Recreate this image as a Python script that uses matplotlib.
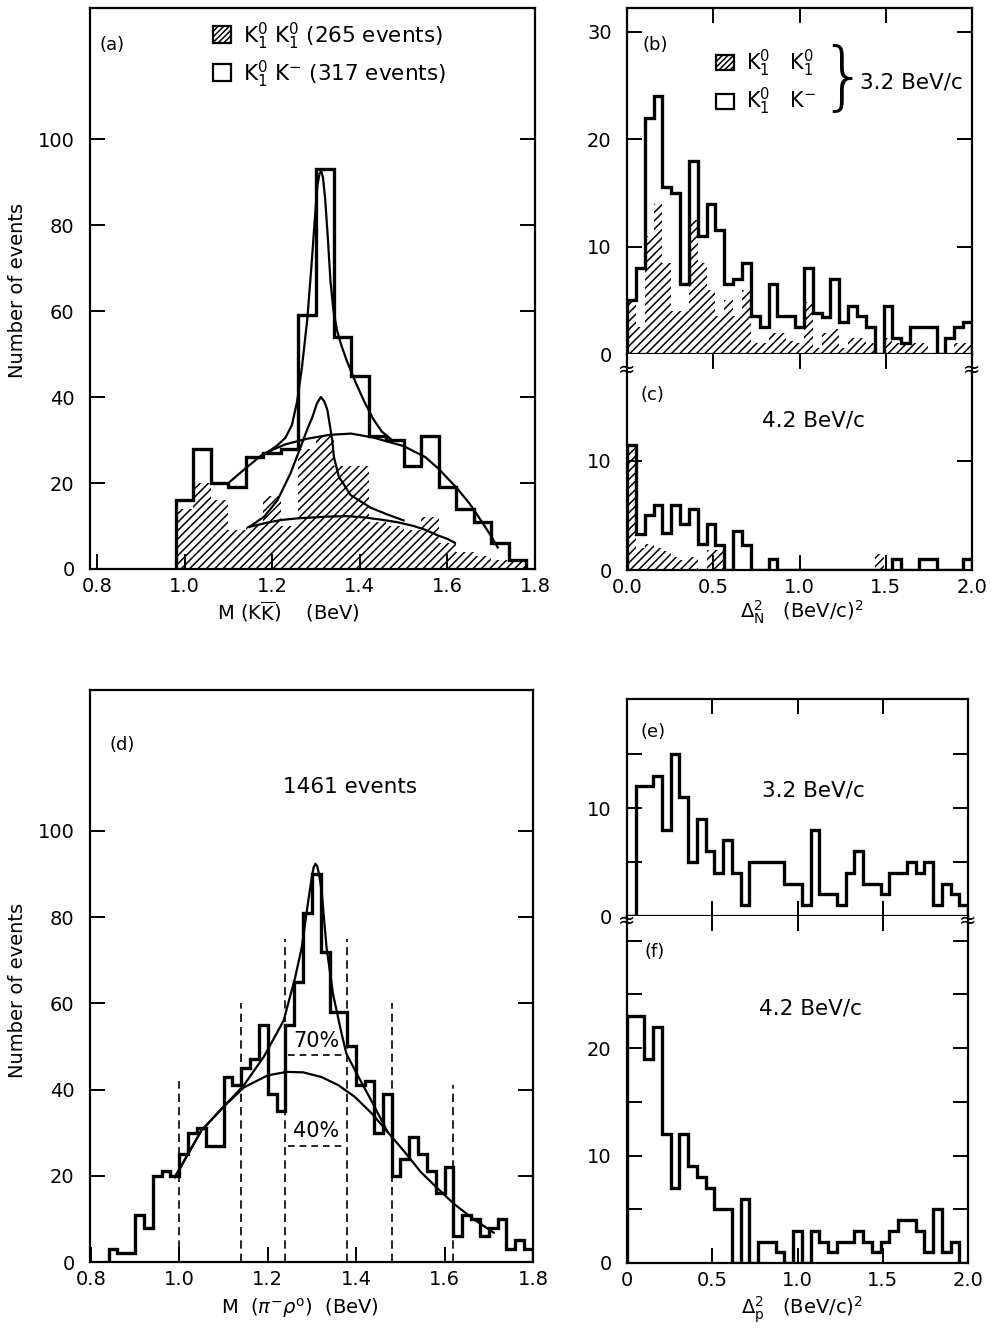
import numpy as np
import matplotlib
matplotlib.use('Agg')
import matplotlib.pyplot as plt
from matplotlib.patches import Rectangle

plt.rcParams['font.family'] = ['DejaVu Sans']
plt.rcParams['mathtext.fontset'] = 'dejavusans'
plt.rcParams['hatch.linewidth'] = 1.1

# ---------------- data ----------------
# (a) M(KKbar), bins of 0.04 BeV starting at 0.98
a_start, a_width = 0.98, 0.04
a_total = [16, 28, 20, 19, 26, 27, 28, 59, 93, 54, 45, 31, 30, 24, 31, 19, 14, 11, 6, 2]
a_k1k1 = [14, 20, 16, 9, 10, 17, 10, 28, 31, 24, 24, 11, 10, 9, 12, 6, 4, 3, 2, 2]
# fitted curves
a_bg_M = [1.10, 1.14, 1.18, 1.23, 1.28, 1.33, 1.38, 1.43, 1.50, 1.55, 1.58, 1.62, 1.65, 1.68, 1.70, 1.715]
a_bg_N = [20, 23.5, 26.8, 29, 30.3, 31.2, 31.5, 30.6, 28.6, 26, 23.3, 19, 15.3, 10.8, 7.6, 5]
a_fit_M = [1.19, 1.21, 1.23, 1.245, 1.257, 1.268, 1.28, 1.29, 1.297, 1.303, 1.308, 1.312, 1.316,
           1.321, 1.327, 1.333, 1.34, 1.348, 1.358, 1.37, 1.39, 1.41, 1.43, 1.45, 1.47]
a_fit_N = [27.2, 28.6, 30.5, 33.5, 39, 47, 58, 71, 81, 89, 92, 92.5, 91,
           86, 77, 67, 60, 55.5, 52, 48.5, 43.5, 39, 35, 32, 30.3]
a_kbg_M = [1.148, 1.185, 1.22, 1.26, 1.295, 1.33, 1.371, 1.41, 1.447, 1.485, 1.523, 1.55, 1.576, 1.60, 1.617]
a_kbg_N = [9.8, 10.7, 11.4, 11.8, 12, 12.2, 12.3, 12, 11.5, 10.9, 10, 9.1, 7.9, 7, 6.1]
a_kfit_M = [1.148, 1.182, 1.212, 1.242, 1.265, 1.28, 1.292, 1.302, 1.311, 1.319, 1.326, 1.337,
            1.341, 1.352, 1.379, 1.424, 1.46, 1.50]
a_kfit_N = [9.8, 12.2, 16, 22.3, 28.4, 32.5, 35.4, 38.5, 40, 39, 37, 30,
            26, 21.5, 17.2, 14.3, 12.8, 11.3]

# (b) Delta^2_N at 3.2 BeV/c
b_total = [5, 8, 22, 24, 15.5, 15, 6.5, 18, 11, 14, 11.5, 6.5, 7, 8.5, 3.5, 2.5, 6.5, 3.5, 3.5, 2.5,
           8, 3.8, 3.4, 7, 3, 4.5, 3.5, 2.5, 0, 4.5, 1.5, 1, 2.5, 2.5, 2.5, 0, 1.5, 2.5, 3]
b_k1k1 = [5, 2.5, 11, 14, 8.5, 4, 4, 12.5, 8.5, 6, 3.5, 5, 3.5, 6, 1, 1, 2, 2, 1.2, 1,
          4.8, 0.6, 2, 2.3, 0.6, 1.5, 1.5, 1, 0, 1.5, 1, 1, 1, 1, 0, 0, 0, 1, 1]
# (c) Delta^2_N at 4.2 BeV/c
c_total = [11.5, 3.3, 5, 6, 3.4, 6, 4.2, 5.6, 2.4, 4.2, 2.3, 0, 3.6, 2.3, 0, 0, 1,
           0, 0, 0, 0, 0, 0, 0, 0, 0, 0, 0, 0, 0, 1, 0, 0, 1, 1, 0, 0, 0, 1]
c_k1k1 = [11.5, 2, 2.4, 2, 1.7, 1.2, 0.9, 1.2, 0, 1.8, 1.8, 0, 0, 0, 0, 0, 0,
          0, 0, 0, 0, 0, 0, 0, 0, 0, 0, 0, 1.5, 0, 0, 0, 0, 0, 0, 0, 0, 0, 0]

# (d) M(pi- rho0), bins of 0.02 BeV starting at 0.84
d_start, d_width = 0.84, 0.02
d_counts = [3, 2, 2, 11, 8, 20, 21, 20, 25, 30, 31, 27, 27, 43, 41, 45, 47, 55, 39, 35, 55, 65, 81, 90,
            72, 58, 58, 50, 41, 42, 30, 39, 20, 24, 29, 25, 21, 16, 22, 6, 11, 10, 6, 8, 10, 3, 5, 3]
d_bg_M = [0.99, 1.05, 1.10, 1.146, 1.20, 1.243, 1.28, 1.322, 1.36, 1.397, 1.435, 1.471,
          1.51, 1.546, 1.585, 1.621, 1.665, 1.711]
d_bg_N = [19.7, 30.5, 36, 40.5, 43.3, 44.1, 44, 42.9, 41, 38.3, 34.5, 30.2,
          25.5, 20.9, 17, 13.5, 10, 6.8]
d_fit_M = [0.99, 1.05, 1.10, 1.146, 1.191, 1.236, 1.262, 1.277, 1.292, 1.300, 1.304, 1.308, 1.312,
           1.316, 1.322, 1.333, 1.348, 1.367, 1.378, 1.405, 1.434, 1.471]
d_fit_N = [19.7, 30.5, 36, 41, 47.6, 56, 66, 73, 84, 89.5, 91.6, 92.4, 91.8,
           90, 86, 73, 62, 53, 48.3, 43, 37.5, 30.2]
d_cut_M = [1.00, 1.14, 1.24, 1.38, 1.48, 1.62]
d_cut_top = [42, 60, 75, 75, 60, 41]
d_band_M = [1.245, 1.375]
d_band70 = 48
d_band40 = 27

# (e) Delta^2_p at 3.2 BeV/c, (f) at 4.2 BeV/c
e_counts = [0, 12, 12, 13, 8, 15, 11, 5, 9, 6, 4, 7, 4, 1, 5, 5, 5, 5, 3, 3,
            1, 8, 2, 2, 1, 4, 6, 3, 3, 2, 4, 4, 5, 4, 5, 1, 3, 2, 1]
f_counts = [23, 23, 19, 22, 12, 7, 12, 9, 8, 7, 5, 5, 0, 6, 0, 2, 2, 1, 0, 3,
            0, 3, 2, 1, 2, 2, 3, 2, 1, 2, 3, 4, 4, 3, 1, 5, 1, 2, 0]

# ---------------- figure ----------------
W, H = 994, 1334
fig = plt.figure(figsize=(W / 100, H / 100), dpi=100)
fig.patch.set_facecolor('white')


def box(l, t, r, b):
    return [l / W, 1 - b / H, (r - l) / W, (b - t) / H]


def fx(px):
    return px / W


def fy(py):
    return 1 - py / H


def style(ax):
    for s in ax.spines.values():
        s.set_linewidth(1.6)
    ax.tick_params(which='both', direction='in', length=11, width=1.4, labelsize=14)
    ax.tick_params(axis='x', pad=6)
    ax.tick_params(axis='y', pad=11)


def draw_hist(ax, edges, vals, hatched=None):
    if hatched is not None:
        ax.bar(edges[:-1], hatched, width=np.diff(edges), align='edge',
               facecolor='none', edgecolor='black', hatch='////', linewidth=0)
    ax.stairs(vals, edges, color='black', linewidth=2.4, baseline=0)


# ---- (a)
axa = fig.add_axes(box(90, 8, 535, 569))
style(axa)
a_edges = a_start + a_width * np.arange(len(a_total) + 1)
draw_hist(axa, a_edges, a_total, a_k1k1)
for mx, ny in [(a_bg_M, a_bg_N), (a_fit_M, a_fit_N), (a_kbg_M, a_kbg_N), (a_kfit_M, a_kfit_N)]:
    axa.plot(mx, ny, color='black', lw=1.6)
axa.set_xlim(0.784, 1.795)
axa.set_ylim(0, 130.5)
axa.set_xticks([0.8, 1.0, 1.2, 1.4, 1.6, 1.8])
axa.set_xticklabels(['0.8', '1.0', '1.2', '1.4', '1.6', '1.8'])
axa.set_yticks([0, 20, 40, 60, 80, 100])
axa.tick_params(right=True)

# ---- (b)
bc_edges = np.linspace(0.0, 2.0, len(b_total) + 1)
axb = fig.add_axes(box(627, 8, 972, 354))
style(axb)
draw_hist(axb, bc_edges, b_total, b_k1k1)
axb.set_xlim(0, 2.0)
axb.set_ylim(0, 32.2)
axb.set_xticks([0.5, 1.0, 1.5])
axb.set_yticks([0, 10, 20, 30])
axb.tick_params(top=True, bottom=False, labelbottom=False, right=True)

# ---- (c)
axc = fig.add_axes(box(627, 354, 972, 570))
style(axc)
axc.spines['top'].set_visible(False)
draw_hist(axc, bc_edges, c_total, c_k1k1)
axc.set_xlim(0, 2.0)
axc.set_ylim(0, 19.8)
axc.set_xticks([0, 0.5, 1.0, 1.5, 2.0])
axc.set_xticklabels(['0.0', '0.5', '1.0', '1.5', '2.0'])
axc.set_yticks([0, 10])
axc.tick_params(top=True, right=True)

# ---- (d)
axd = fig.add_axes(box(90, 690, 533, 1262))
style(axd)
d_edges = d_start + d_width * np.arange(len(d_counts) + 1)
draw_hist(axd, d_edges, d_counts)
axd.plot(d_bg_M, d_bg_N, color='black', lw=1.6)
axd.plot(d_fit_M, d_fit_N, color='black', lw=1.6)
axd.vlines(d_cut_M, 0, d_cut_top, colors='black', linestyles=(0, (5, 3)), lw=1.2)
axd.hlines([d_band70, d_band40], d_band_M[0], d_band_M[1], colors='black',
           linestyles=(0, (4, 3)), lw=1.2)
axd.text(np.mean(d_band_M), d_band70 + 1.0, '70%', ha='center', va='bottom', fontsize=15)
axd.text(np.mean(d_band_M), d_band40 + 1.0, '40%', ha='center', va='bottom', fontsize=15)
axd.set_xlim(0.798, 1.792)
axd.set_ylim(0, 132.7)
axd.set_xticks([0.8, 1.0, 1.2, 1.4, 1.6, 1.8])
axd.set_xticklabels(['0.8', '1.0', '1.2', '1.4', '1.6', '1.8'])
axd.set_yticks([0, 20, 40, 60, 80, 100])
axd.tick_params(right=True)

# ---- (e)
ef_edges = np.linspace(0.0, 2.0, len(e_counts) + 1)
axe = fig.add_axes(box(627, 699, 968, 916))
style(axe)
draw_hist(axe, ef_edges, e_counts)
axe.set_xlim(0, 2.0)
axe.set_ylim(0, 20.1)
axe.set_xticks([0.5, 1.0, 1.5])
axe.set_yticks([0, 5, 10, 15])
axe.set_yticklabels(['0', '', '10', ''])
axe.tick_params(top=True, labelbottom=False, right=True)

# ---- (f)
axf = fig.add_axes(box(627, 916, 968, 1263))
style(axf)
axf.spines['top'].set_visible(False)
draw_hist(axf, ef_edges, f_counts)
axf.set_xlim(0, 2.0)
axf.set_ylim(0, 32.3)
axf.set_xticks([0, 0.5, 1.0, 1.5, 2.0])
axf.set_xticklabels(['0', '0.5', '1.0', '1.5', '2.0'])
axf.set_yticks([0, 5, 10, 15, 20, 25, 30])
axf.set_yticklabels(['0', '', '10', '', '20', '', ''])
axf.tick_params(top=True, right=True)

# ---------------- texts ----------------
fs = 14
fig.text(fx(18), fy(290), 'Number of events', rotation=90, ha='center', va='center', fontsize=fs)
fig.text(fx(18), fy(990), 'Number of events', rotation=90, ha='center', va='center', fontsize=fs)
fig.text(fx(288), fy(612), r'M (K$\overline{\mathrm{K}}$)    (BeV)', ha='center', va='center', fontsize=fs)
fig.text(fx(802), fy(612), r'$\Delta^{2}_{\mathrm{N}}$   (BeV/c)$^{2}$', ha='center', va='center', fontsize=fs)
fig.text(fx(300), fy(1308), r'M  ($\pi^{-}\rho^{\mathrm{o}}$)  (BeV)', ha='center', va='center', fontsize=fs)
fig.text(fx(802), fy(1310), r'$\Delta^{2}_{\mathrm{p}}$   (BeV/c)$^{2}$', ha='center', va='center', fontsize=fs)

fig.text(fx(112), fy(45), '(a)', ha='center', va='center', fontsize=13)
fig.text(fx(655), fy(45), '(b)', ha='center', va='center', fontsize=13)
fig.text(fx(652), fy(395), '(c)', ha='center', va='center', fontsize=13)
fig.text(fx(122), fy(745), '(d)', ha='center', va='center', fontsize=13)
fig.text(fx(653), fy(732), '(e)', ha='center', va='center', fontsize=13)
fig.text(fx(655), fy(952), '(f)', ha='center', va='center', fontsize=13)

# legend (a)
for (y0, hatch) in [(26, '//////'), (64, None)]:
    r = Rectangle((fx(213), fy(y0 + 17)), 18 / W, 17 / H, transform=fig.transFigure,
                  facecolor='none', edgecolor='black', linewidth=1.6, hatch=hatch)
    fig.add_artist(r)
fig.text(fx(243), fy(36), r'K$^{0}_{1}$ K$^{0}_{1}$ (265 events)', ha='left', va='center', fontsize=15.5)
fig.text(fx(243), fy(74), r'K$^{0}_{1}$ K$^{-}$ (317 events)', ha='left', va='center', fontsize=15.5)

# legend (b)
for (y0, hatch) in [(55, '//////'), (94, None)]:
    r = Rectangle((fx(716), fy(y0 + 15)), 18 / W, 15 / H, transform=fig.transFigure,
                  facecolor='none', edgecolor='black', linewidth=1.6, hatch=hatch)
    fig.add_artist(r)
fig.text(fx(746), fy(63), r'K$^{0}_{1}$   K$^{0}_{1}$', ha='left', va='center', fontsize=15)
fig.text(fx(746), fy(101), r'K$^{0}_{1}$   K$^{-}$', ha='left', va='center', fontsize=15)
fig.text(fx(843), fy(80), '}', ha='center', va='center', fontsize=54, fontweight='light')
fig.text(fx(911), fy(82), '3.2 BeV/c', ha='center', va='center', fontsize=15.5)

fig.text(fx(813), fy(420), '4.2 BeV/c', ha='center', va='center', fontsize=15.5)
fig.text(fx(350), fy(787), '1461 events', ha='center', va='center', fontsize=15.5)
fig.text(fx(813), fy(790), '3.2 BeV/c', ha='center', va='center', fontsize=15.5)
fig.text(fx(810), fy(1008), '4.2 BeV/c', ha='center', va='center', fontsize=15.5)

# axis break marks
for (xx, yy) in [(627, 370), (972, 370), (627, 921), (968, 921)]:
    fig.text(fx(xx), fy(yy), '≈', ha='center', va='center', fontsize=15)

fig.savefig('out.png', dpi=100, facecolor='white')
